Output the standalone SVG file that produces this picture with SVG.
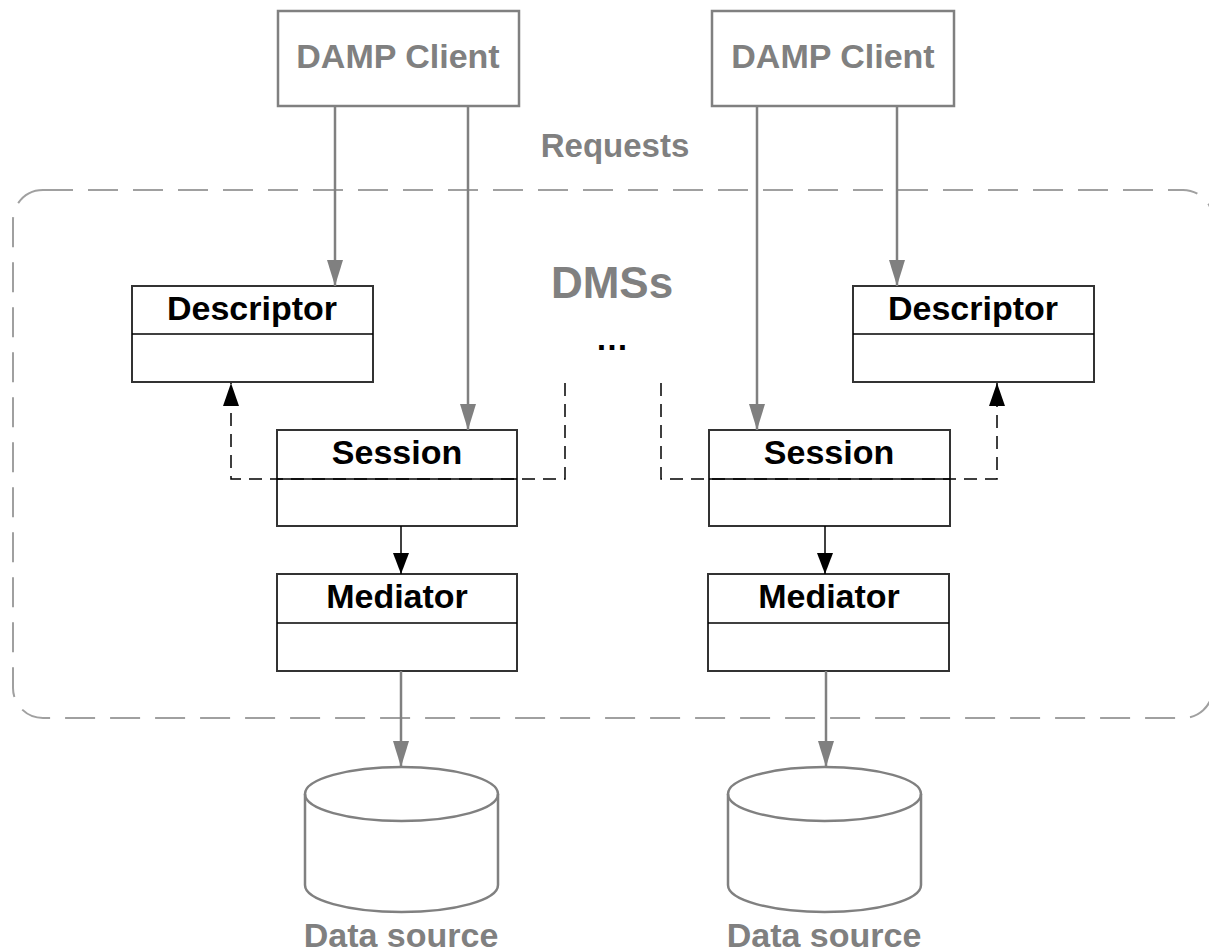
<svg xmlns="http://www.w3.org/2000/svg" width="1209" height="952" viewBox="0 0 1209 952">
<style>
.t{font-family:"Liberation Sans",Arial,sans-serif;font-weight:bold;text-anchor:middle}
.g{fill:#808080}
.k{fill:#000}
.client{fill:#fff;stroke:#808080;stroke-width:2.5}
.cls{fill:#fff;stroke:#333;stroke-width:2}
.div{stroke:#000;stroke-width:1.5}
.garrow{stroke:#808080;stroke-width:2.5;fill:none;marker-end:url(#gh)}
.karrow{stroke:#000;stroke-width:1.5;fill:none;marker-end:url(#kh)}
.dep{stroke:#000;stroke-width:1.5;fill:none;stroke-dasharray:13 8;marker-end:url(#dh)}
.db{fill:#fff;stroke:#808080;stroke-width:2.5}
</style>
<defs>
<marker id="gh" viewBox="0 0 26 16" markerWidth="26" markerHeight="16" refX="26" refY="8" orient="auto" markerUnits="userSpaceOnUse"><path d="M0,0 L26,8 L0,16 Z" fill="#808080"/></marker>
<marker id="kh" viewBox="0 0 21 16" markerWidth="21" markerHeight="16" refX="21" refY="8" orient="auto" markerUnits="userSpaceOnUse"><path d="M0,0 L21,8 L0,16 Z" fill="#000"/></marker>
<marker id="dh" viewBox="0 0 23 16" markerWidth="23" markerHeight="16" refX="23" refY="8" orient="auto" markerUnits="userSpaceOnUse"><path d="M0,0 L23,8 L0,16 Z" fill="#000"/></marker>
</defs>
<rect width="1209" height="952" fill="#fff"/>

<g id="dms-boundary">
<rect x="13" y="190" width="1200" height="528" rx="30" ry="30" fill="none" stroke="#a0a0a0" stroke-width="2" stroke-dasharray="30 15"/>
<text class="t g" x="612" y="298" font-size="44">DMSs</text>
<text class="t k" x="612" y="350" font-size="33">…</text>
</g>

<text id="requests-label" class="t g" x="615" y="157" font-size="33">Requests</text>

<g id="client-left">
<rect class="client" x="278" y="11" width="241" height="95"/>
<text class="t g" x="398" y="68" font-size="34">DAMP Client</text>
</g>
<g id="client-right">
<rect class="client" x="712" y="11" width="242" height="95"/>
<text class="t g" x="833" y="68" font-size="34">DAMP Client</text>
</g>

<g id="descriptor-left">
<rect class="cls" x="132" y="286" width="241" height="96"/>
<line class="div" x1="132" y1="334" x2="373" y2="334"/>
<text class="t k" x="252" y="320" font-size="34">Descriptor</text>
</g>
<g id="descriptor-right">
<rect class="cls" x="853" y="286" width="241" height="96"/>
<line class="div" x1="853" y1="334" x2="1094" y2="334"/>
<text class="t k" x="973" y="320" font-size="34">Descriptor</text>
</g>

<g id="session-left">
<rect class="cls" x="277" y="430" width="240" height="96"/>
<line class="div" x1="277" y1="479" x2="517" y2="479"/>
<text class="t k" x="397" y="464" font-size="34">Session</text>
</g>
<g id="session-right">
<rect class="cls" x="709" y="430" width="241" height="96"/>
<line class="div" x1="709" y1="479" x2="950" y2="479"/>
<text class="t k" x="829" y="464" font-size="34">Session</text>
</g>

<g id="mediator-left">
<rect class="cls" x="277" y="574" width="240" height="97"/>
<line class="div" x1="277" y1="623" x2="517" y2="623"/>
<text class="t k" x="397" y="608" font-size="34">Mediator</text>
</g>
<g id="mediator-right">
<rect class="cls" x="708" y="574" width="241" height="97"/>
<line class="div" x1="708" y1="623" x2="949" y2="623"/>
<text class="t k" x="829" y="608" font-size="34">Mediator</text>
</g>

<g id="datasource-left">
<path class="db" d="M305,794 A96.5,27 0 0 1 498,794 V885 A96.5,27 0 0 1 305,885 Z"/>
<path d="M305,794 A96.5,27 0 0 0 498,794" fill="none" stroke="#808080" stroke-width="2.5"/>
<text class="t g" x="401" y="947" font-size="34">Data source</text>
</g>
<g id="datasource-right">
<path class="db" d="M728,794 A96.5,27 0 0 1 921,794 V885 A96.5,27 0 0 1 728,885 Z"/>
<path d="M728,794 A96.5,27 0 0 0 921,794" fill="none" stroke="#808080" stroke-width="2.5"/>
<text class="t g" x="824" y="947" font-size="34">Data source</text>
</g>

<g id="connectors">
<line class="garrow" x1="335" y1="106" x2="335" y2="286"/>
<line class="garrow" x1="468" y1="106" x2="468" y2="430"/>
<line class="garrow" x1="757" y1="106" x2="757" y2="430"/>
<line class="garrow" x1="897" y1="106" x2="897" y2="286"/>
<line class="karrow" x1="401" y1="526" x2="401" y2="574"/>
<line class="karrow" x1="825" y1="526" x2="825" y2="574"/>
<line class="garrow" x1="401" y1="671" x2="401" y2="767"/>
<line class="garrow" x1="826" y1="671" x2="826" y2="767"/>
<path class="dep" d="M565,383 V479 H231 V383"/>
<path class="dep" d="M661,383 V479 H997 V383"/>
</g>
</svg>
